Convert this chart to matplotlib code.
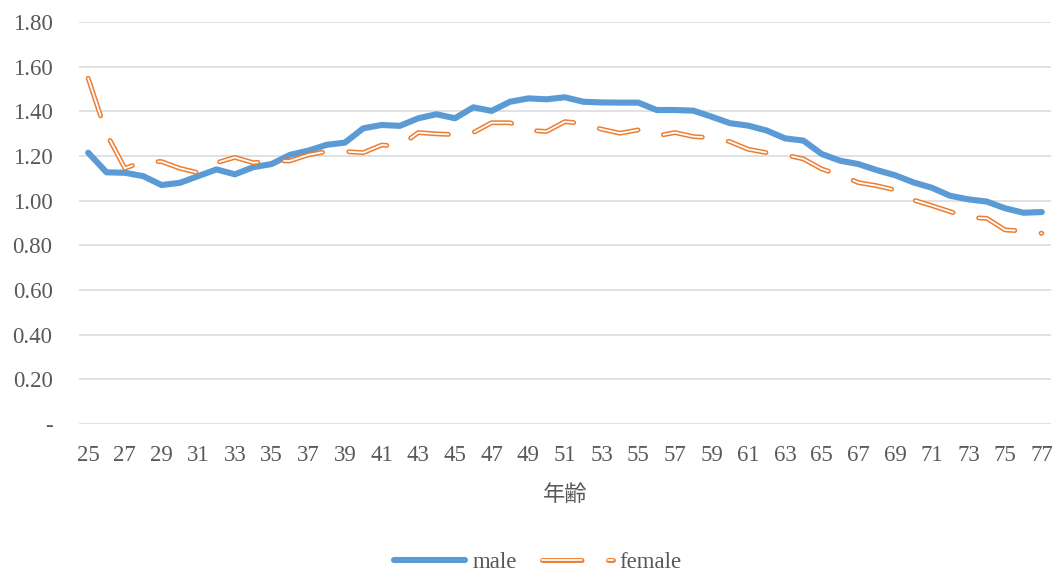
import matplotlib.pyplot as plt
from matplotlib.ticker import FixedLocator, FuncFormatter

# data
ages = list(range(25, 78))
male = [1.215, 1.127, 1.125, 1.11, 1.07, 1.08, 1.11, 1.14, 1.118, 1.15,
        1.164, 1.205, 1.224, 1.25, 1.26, 1.324, 1.339, 1.335, 1.369, 1.387,
        1.369, 1.418, 1.402, 1.443, 1.458, 1.454, 1.463, 1.443, 1.44, 1.439,
        1.439, 1.406, 1.406, 1.403, 1.376, 1.347, 1.336, 1.314, 1.279, 1.269,
        1.209, 1.179, 1.164, 1.137, 1.114, 1.082, 1.058, 1.022, 1.006, 0.996,
        0.966, 0.946, 0.949]
female = [1.548, 1.30, 1.145, 1.175, 1.175, 1.145, 1.125, 1.17, 1.194, 1.17,
          1.178, 1.178, 1.205, 1.22, 1.22, 1.215, 1.249, 1.245, 1.305, 1.299,
          1.296, 1.305, 1.349, 1.349, 1.315, 1.31, 1.354, 1.345, 1.32, 1.302,
          1.317, 1.29, 1.305, 1.287, 1.282, 1.264, 1.23, 1.215, 1.205, 1.187,
          1.142, 1.115, 1.081, 1.067, 1.048, 1.003, 0.978, 0.951, 0.925, 0.921,
          0.869, 0.864, 0.854]
yticks = [0, 0.2, 0.4, 0.6, 0.8, 1.0, 1.2, 1.4, 1.6, 1.8]

plt.rcParams['font.family'] = ['Liberation Serif', 'Noto Sans CJK JP']

fig = plt.figure(figsize=(10.59, 5.75), dpi=100)
ax = fig.add_axes([0.0746, 0.2626, 0.9178, 0.6991])

blue = '#5B9BD5'
orange = '#ED7D31'

male_line, = ax.plot(ages, male, color=blue, lw=4.4, solid_capstyle='round',
                     solid_joinstyle='round', zorder=3)

# double-line long-dash look: thick orange dash with thin white dash on top
w_out, w_in = 3.5, 1.3
on, off = 28.5, 19.0
f_out, = ax.plot(ages, female, color=orange, lw=w_out, zorder=4,
                 dash_capstyle='round', dash_joinstyle='round',
                 dashes=(on / w_out, off / w_out))
f_in, = ax.plot(ages, female, color='white', lw=w_in, zorder=5,
                dash_capstyle='round', dash_joinstyle='round',
                dashes=(on / w_in, off / w_in))

ax.set_xlim(24.5, 77.5)
ax.set_ylim(0, 1.8)
ax.xaxis.set_major_locator(FixedLocator(ages[::2]))
ax.yaxis.set_major_locator(FixedLocator(yticks))
ax.yaxis.set_major_formatter(FuncFormatter(lambda v, p: '-' if v == 0 else f'{v:.2f}'))

ax.grid(axis='y', color='#D9D9D9', lw=1.1, zorder=0)
for s in ax.spines.values():
    s.set_visible(False)
ax.tick_params(axis='both', length=0, labelsize=16.5, labelcolor='#595959')
ax.tick_params(axis='y', pad=19)
ax.tick_params(axis='x', pad=15)

ax.set_xlabel('年齢', fontsize=16, color='#595959', labelpad=12,
              family=['Noto Sans CJK JP'])

fig.legend([male_line, (f_out, f_in)], ['male', 'female'],
           loc='center', bbox_to_anchor=(0.508, 0.022), ncol=2, frameon=False,
           fontsize=16.5, labelcolor='#595959', handlelength=3.1,
           handletextpad=0.3, columnspacing=1.1)

fig.savefig('out.png', dpi=100)
